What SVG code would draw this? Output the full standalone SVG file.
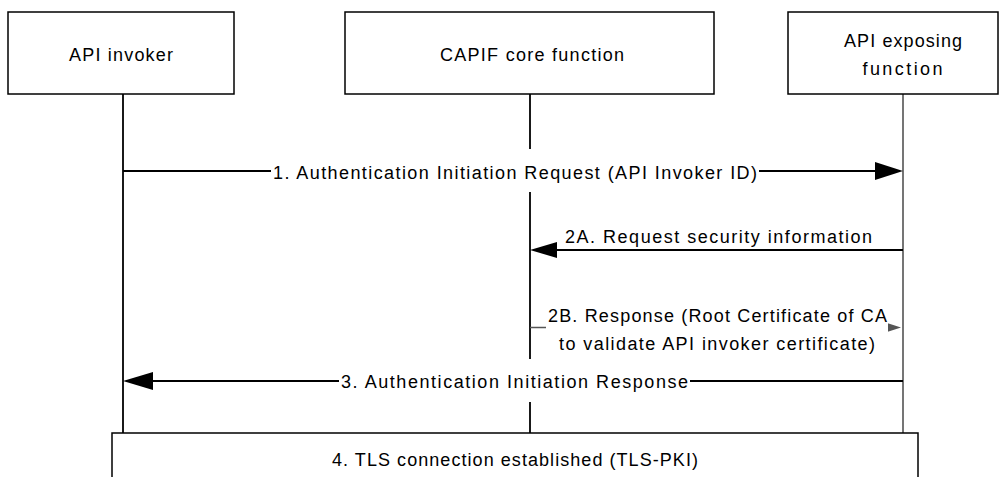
<svg xmlns="http://www.w3.org/2000/svg" width="1003" height="477" viewBox="0 0 1003 477">
  <defs>
    <style>
      .box { fill: #ffffff; stroke: #000000; stroke-width: 1.5; }
      .life { stroke: #000000; stroke-width: 1.8; fill: none; }
      .lifeg { stroke: #666666; stroke-width: 1.8; fill: none; }
      .msg { stroke: #000000; stroke-width: 2; fill: none; }
      .msgg { stroke: #555555; stroke-width: 1.3; fill: none; }
      .head { fill: #000000; }
      .headg { fill: #555555; }
      text { font-family: "Liberation Sans", Arial, sans-serif; font-size: 18px; fill: #000000; }
      .c { text-anchor: middle; }
    </style>
  </defs>
  <rect width="1003" height="477" fill="#ffffff"/>

  <g id="connectors">
    <line class="life" x1="123" y1="94" x2="123" y2="433"/>
    <line class="life" x1="530" y1="94" x2="530" y2="433"/>
    <line class="lifeg" x1="903" y1="94" x2="903" y2="433"/>

    <g id="msg1">
      <line class="msg" x1="123" y1="171" x2="877" y2="171"/>
      <polygon class="head" points="903,171 875,162 875,180"/>
      <rect x="271" y="149" width="488" height="43" fill="#ffffff"/>
      <text x="515" y="179" class="c" textLength="484" lengthAdjust="spacing">1. Authentication Initiation Request (API Invoker ID)</text>
    </g>
    <g id="msg2a">
      <line class="msg" x1="556" y1="250" x2="903" y2="250"/>
      <polygon class="head" points="530,250 557,242 557,258"/>
      <text x="718.5" y="243" class="c" textLength="307" lengthAdjust="spacing">2A. Request security information</text>
    </g>
    <g id="msg2b">
      <line class="msgg" x1="530" y1="327.5" x2="889" y2="327.5"/>
      <polygon class="headg" points="901,327.5 887,323 887,332"/>
      <rect x="546" y="303" width="342" height="55" fill="#ffffff"/>
      <text x="717.5" y="322" class="c" textLength="339" lengthAdjust="spacing">2B. Response (Root Certificate of CA</text>
      <text x="717" y="350" class="c" textLength="316" lengthAdjust="spacing">to validate API invoker certificate)</text>
    </g>
    <g id="msg3">
      <line class="msg" x1="150" y1="381" x2="903" y2="381"/>
      <polygon class="head" points="123,381 153,372 153,390"/>
      <rect x="339" y="359" width="351" height="43" fill="#ffffff"/>
      <text x="514.5" y="388" class="c" textLength="347" lengthAdjust="spacing">3. Authentication Initiation Response</text>
    </g>
  </g>

  <g id="api-invoker">
    <rect class="box" x="8" y="12" width="226" height="82"/>
    <text x="121" y="61" class="c" textLength="104" lengthAdjust="spacing">API invoker</text>
  </g>
  <g id="capif-core">
    <rect class="box" x="345" y="12" width="369" height="82"/>
    <text x="532" y="61" class="c" textLength="184" lengthAdjust="spacing">CAPIF core function</text>
  </g>
  <g id="api-exposing">
    <rect class="box" x="788" y="12" width="210" height="82"/>
    <text x="903" y="47" class="c" textLength="118" lengthAdjust="spacing">API exposing</text>
    <text x="902.5" y="75" class="c" textLength="80" lengthAdjust="spacing">function</text>
  </g>
  <g id="tls">
    <rect class="box" x="112" y="433" width="806" height="60"/>
    <text x="515" y="466" class="c" textLength="366" lengthAdjust="spacing">4.  TLS connection established (TLS-PKI)</text>
  </g>
</svg>
